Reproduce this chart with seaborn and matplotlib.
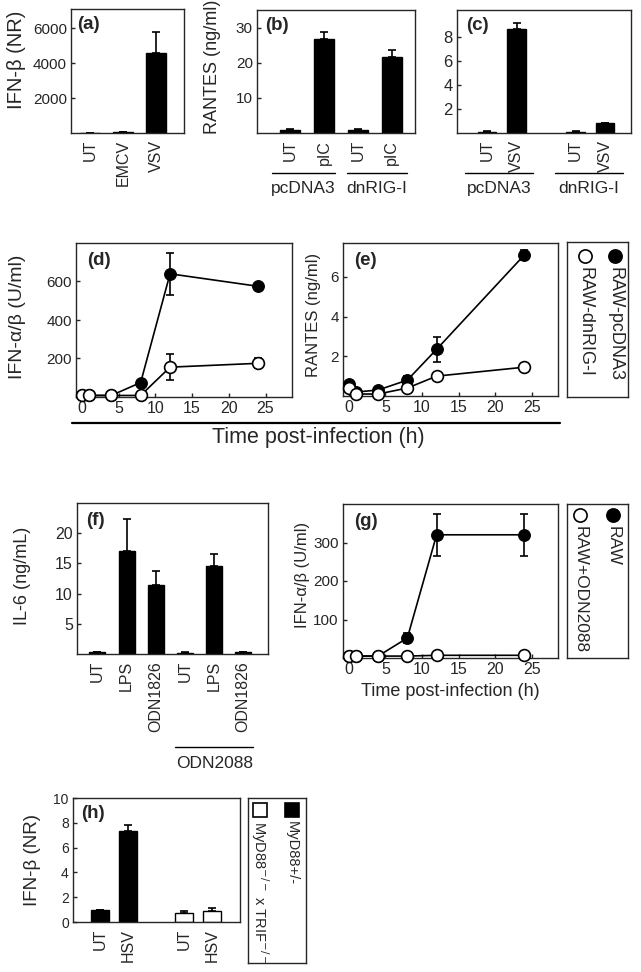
import numpy as np
import pandas as pd
import matplotlib
matplotlib.use("Agg")
import matplotlib.pyplot as plt
from matplotlib.lines import Line2D
import seaborn as sns

sns.set_style("ticks")
plt.rcParams['font.family'] = ['Liberation Sans', 'DejaVu Sans']
plt.rcParams['axes.linewidth'] = 1.0

# ---- data ----
# (a) IFN-beta reporter
a_cats = ["UT", "EMCV", "VSV"]
a_vals = [0, 60, 4600]
a_err = [0, 0, 1200]

# (b) RANTES, poly I:C
b_cats = ["UT", "pIC", "UT", "pIC"]
b_vals = [0.8, 26.8, 0.8, 21.6]
b_err = [0.2, 2.0, 0.2, 2.0]
b_groups = ["pcDNA3", "dnRIG-I"]

# (c) VSV
c_cats = ["UT", "VSV", "UT", "VSV"]
c_vals = [0.1, 8.6, 0.05, 0.8]
c_err = [0.03, 0.5, 0.1, 0.06]
c_groups = ["pcDNA3", "dnRIG-I"]

# (d), (e), (g) time course
time_h = [0, 1, 4, 8, 12, 24]
d_pc = [8, 8, 8, 75, 640, 575]
d_pc_err = [0, 0, 0, 8, 110, 12]
d_dn = [8, 8, 8, 8, 155, 175]
d_dn_err = [0, 0, 0, 0, 68, 25]

e_pc = [0.6, 0.2, 0.3, 0.8, 2.35, 7.1]
e_pc_err = [0.1, 0, 0, 0.2, 0.62, 0.25]
e_dn = [0.4, 0.1, 0.1, 0.4, 1.0, 1.45]
e_dn_err = [0, 0, 0, 0, 0.05, 0.05]
de_labels = ["RAW-pcDNA3", "RAW-dnRIG-I"]

# (f) IL-6
f_cats = ["UT", "LPS", "ODN1826", "UT", "LPS", "ODN1826"]
f_vals = [0.3, 17.0, 11.5, 0.2, 14.6, 0.3]
f_err = [0.1, 5.3, 2.3, 0.05, 2.0, 0.1]

g_raw = [5, 5, 5, 52, 320, 320]
g_raw_err = [0, 0, 0, 12, 55, 55]
g_odn = [5, 5, 5, 5, 7, 7]
g_labels = ["RAW", "RAW+ODN2088"]

# (h) HSV
h_cats = ["UT", "HSV", "UT", "HSV"]
h_vals = [1.0, 7.3, 0.7, 0.85]
h_err = [0.0, 0.5, 0.2, 0.3]
h_group = ["het", "het", "dko", "dko"]
h_labels = ["MyD88+/-", "MyD88$^{-/-}$ x TRIF$^{-/-}$"]

W, H = 641, 972
fig = plt.figure(figsize=(W / 100, H / 100), dpi=100)


def add_ax(x0, y0, x1, y1):
    return fig.add_axes([x0 / W, 1 - y1 / H, (x1 - x0) / W, (y1 - y0) / H])


def style(ax, fs=10):
    for s in ax.spines.values():
        s.set_visible(True)
        s.set_linewidth(1.0)
    ax.tick_params(direction='in', length=3, width=1, labelsize=fs, pad=3)


def ylab(ax, text, fs, x, y):
    ax.set_ylabel(text, fontsize=fs, va="center")
    ax.yaxis.set_label_coords(x, y)


def bars(ax, cats, vals, err, gap_after=None, width=0.6, hue=None, fs=11.5):
    keys = [f"{c}_{i}" for i, c in enumerate(cats)]
    order = list(keys)
    if gap_after is not None:
        order.insert(gap_after, "gap")
    df = pd.DataFrame({"key": keys, "val": vals})
    if hue is None:
        sns.barplot(data=df, x="key", y="val", order=order, color="black",
                    width=width, errorbar=None, edgecolor="black", linewidth=1, ax=ax)
    else:
        df["grp"] = hue
        sns.barplot(data=df, x="key", y="val", order=order, hue="grp",
                    palette={"het": "black", "dko": "white"}, dodge=False,
                    width=width, errorbar=None, edgecolor="black", linewidth=1,
                    legend=False, ax=ax)
    pos = [order.index(k) for k in keys]
    e = np.array(err, dtype=float)
    ax.errorbar(pos, vals, yerr=[np.zeros_like(e), e], fmt="none", ecolor="black",
                elinewidth=1.2, capsize=3, capthick=1.2)
    ax.set_xticks(pos)
    ax.set_xticklabels(cats, rotation=90, fontsize=fs)
    ax.tick_params(axis="x", length=0, pad=5)
    ax.set_xlabel("")
    ax.set_ylabel("")
    return pos


def group_line(ax, x0, x1, y, label, ly, fs=12.5):
    ax.plot([x0, x1], [y, y], color="black", lw=1, transform=ax.get_xaxis_transform(),
            clip_on=False)
    ax.text((x0 + x1) / 2, ly, label, ha="center", va="center", fontsize=fs,
            transform=ax.get_xaxis_transform())


def panel_label(ax, s, fs=13.5):
    ax.text(0.05, 0.94, s, transform=ax.transAxes, fontweight="bold", fontsize=fs,
            va="top", ha="left")


def time_course(ax, y1, e1, y2, e2, ms=8.5):
    ax.errorbar(time_h, y1, yerr=e1, fmt="none", ecolor="black", elinewidth=1.2,
                capsize=3, capthick=1.2, zorder=2)
    ax.errorbar(time_h, y2, yerr=e2, fmt="none", ecolor="black", elinewidth=1.2,
                capsize=3, capthick=1.2, zorder=2)
    sns.lineplot(x=time_h, y=y1, color="black", lw=1.2, marker="o", markersize=ms,
                 markerfacecolor="black", markeredgecolor="black", clip_on=False,
                 zorder=3, ax=ax)
    sns.lineplot(x=time_h, y=y2, color="black", lw=1.2, marker="o", markersize=ms,
                 markerfacecolor="white", markeredgecolor="black", markeredgewidth=1.2,
                 clip_on=False, zorder=4, ax=ax)
    ax.set_xlim(-0.8, 28.6)
    ax.set_xticks([0, 5, 10, 15, 20, 25])
    ax.tick_params(axis="x", labelsize=11.5)


def legend_box(x0, y0, x1, y1, items, xs, ytop, ytext, marker, ms, fs):
    lax = add_ax(x0, y0, x1, y1)
    lax.set_xlim(0, 1)
    lax.set_ylim(0, 1)
    lax.set_xticks([])
    lax.set_yticks([])
    for s in lax.spines.values():
        s.set_visible(True)
        s.set_linewidth(1.0)
    for (label, fc), x in zip(items, xs):
        lax.plot([x], [ytop], marker=marker, ms=ms, mfc=fc, mec="black", mew=1.2,
                 linestyle="none")
        lax.text(x, ytext, label, rotation=270, ha="center", va="top", fontsize=fs)
    return lax


# (a)
ax = add_ax(71, 9, 184, 133)
style(ax, 11)
bars(ax, a_cats, a_vals, a_err)
ax.set_xlim(-0.58, 2.85)
ax.set_ylim(0, 7100)
ax.set_yticks([2000, 4000, 6000])
ylab(ax, "IFN-β (NR)", 14.5, -0.48, 0.59)
panel_label(ax, "(a)")

# (b)
ax = add_ax(257, 10, 415, 133)
style(ax, 11)
bars(ax, b_cats, b_vals, b_err)
ax.set_xlim(-0.97, 3.68)
ax.set_ylim(0, 35.1)
ax.set_yticks([10, 20, 30])
ylab(ax, "RANTES (ng/ml)", 13, -0.28, 0.54)
panel_label(ax, "(b)")
group_line(ax, -0.53, 1.32, -0.325, b_groups[0], -0.455)
group_line(ax, 1.68, 3.44, -0.325, b_groups[1], -0.455)

# (c)
ax = add_ax(457, 10, 631, 133)
style(ax, 12)
bars(ax, c_cats, c_vals, c_err, gap_after=2, width=0.62)
ax.set_xlim(-1.02, 4.88)
ax.set_ylim(0, 10.2)
ax.set_yticks([2, 4, 6, 8])
panel_label(ax, "(c)")
group_line(ax, -0.75, 1.55, -0.325, c_groups[0], -0.455)
group_line(ax, 2.3, 4.6, -0.325, c_groups[1], -0.455)

# (d)
ax = add_ax(76, 243, 292, 397)
style(ax, 11)
time_course(ax, d_pc, d_pc_err, d_dn, d_dn_err)
ax.set_ylim(0, 800)
ax.set_yticks([200, 400, 600])
ylab(ax, "IFN-α/β (U/ml)", 14, -0.27, 0.52)
panel_label(ax, "(d)")

# (e)
ax = add_ax(343, 243, 558, 396)
style(ax, 11)
time_course(ax, e_pc, e_pc_err, e_dn, e_dn_err)
ax.set_ylim(0, 7.7)
ax.set_yticks([2, 4, 6])
ylab(ax, "RANTES (ng/ml)", 12, -0.135, 0.53)
panel_label(ax, "(e)")

legend_box(567, 242, 628, 397, [(de_labels[0], "black"), (de_labels[1], "white")],
           [0.79, 0.30], 0.91, 0.84, "o", 9.5, 13)

fig.add_artist(Line2D([72 / W, 560 / W], [1 - 423 / H] * 2, color="black", lw=1.6,
                      transform=fig.transFigure))
fig.text(318 / W, 1 - 438 / H, "Time post-infection (h)", ha="center", va="center",
         fontsize=15.5)

# (f)
ax = add_ax(77, 503, 268, 654)
style(ax, 11.5)
bars(ax, f_cats, f_vals, f_err, width=0.55)
ax.set_xlim(-0.7, 5.85)
ax.set_ylim(0, 25)
ax.set_yticks([5, 10, 15, 20])
ylab(ax, "IL-6 (ng/mL)", 13, -0.283, 0.52)
panel_label(ax, "(f)")
group_line(ax, 2.67, 5.34, -0.616, "ODN2088", -0.725)

# (g)
ax = add_ax(343, 504, 558, 658)
style(ax, 11)
time_course(ax, g_raw, g_raw_err, g_odn, [0] * len(g_odn))
ax.set_ylim(0, 400)
ax.set_yticks([100, 200, 300])
ylab(ax, "IFN-α/β (U/ml)", 12, -0.19, 0.54)
ax.set_xlabel("Time post-infection (h)", fontsize=13, labelpad=4)
panel_label(ax, "(g)")

legend_box(567, 504, 628, 658, [(g_labels[0], "black"), (g_labels[1], "white")],
           [0.76, 0.22], 0.93, 0.86, "o", 9.5, 12.5)

# (h)
ax = add_ax(73, 798, 240, 922)
style(ax, 10)
bars(ax, h_cats, h_vals, h_err, gap_after=2, width=0.65, hue=h_group)
ax.set_xlim(-0.96, 5.0)
ax.set_ylim(0, 10)
ax.set_yticks([0, 2, 4, 6, 8, 10])
ylab(ax, "IFN-β (NR)", 13.5, -0.245, 0.5)
panel_label(ax, "(h)")

legend_box(248, 798, 306, 963, [(h_labels[0], "black"), (h_labels[1], "white")],
           [0.76, 0.21], 0.93, 0.86, "s", 9.5, 10.5)

fig.savefig("out.png", dpi=100)
